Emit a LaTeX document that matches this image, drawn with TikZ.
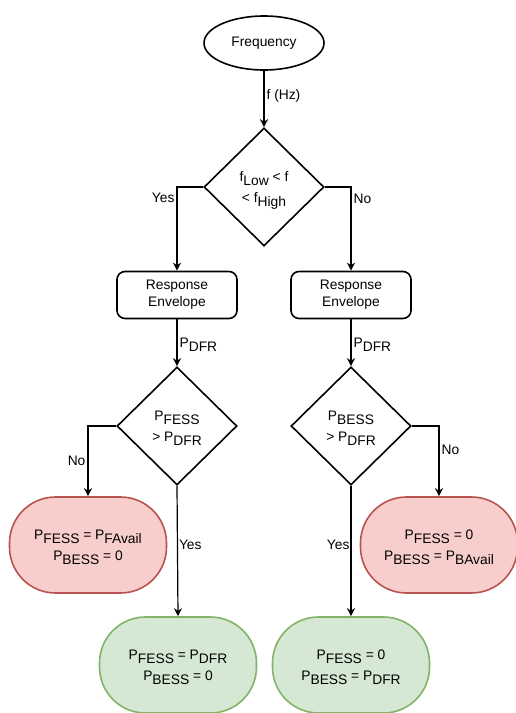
\documentclass[tikz,border=0pt]{standalone}
\usepackage{fontspec}
\setmainfont{Liberation Sans}
\usetikzlibrary{shapes.geometric,arrows.meta}
\definecolor{redfill}{HTML}{F8CECC}
\definecolor{redline}{HTML}{B85450}
\definecolor{greenfill}{HTML}{D5E8D4}
\definecolor{greenline}{HTML}{82B366}
\newcommand{\lo}[1]{\raisebox{-4pt}[0pt][0pt]{#1}}
\begin{document}
\begin{tikzpicture}[x=1pt,y=-1pt,
  every node/.style={font=\fontsize{13.8}{21}\selectfont, align=center},
  shp/.style={draw=black, line width=1.6pt, inner sep=0pt},
  oval/.style={shp, ellipse, minimum width=120pt, minimum height=54pt},
  dia/.style={shp, diamond, minimum width=120pt, minimum height=118pt},
  envbox/.style={shp, rectangle, rounded corners=8pt, minimum width=120pt, minimum height=47pt},
  term/.style={line width=1.6pt, rectangle, rounded corners=46pt, minimum width=157pt, minimum height=96pt, inner sep=0pt},
  redterm/.style={term, draw=redline, fill=redfill},
  greenterm/.style={term, draw=greenline, fill=greenfill},
  conn/.style={draw=black, line width=1.2pt, -{Stealth[length=8pt,width=8pt]}},
  lbl/.style={inner sep=2pt}
]
\useasboundingbox (0,0) rectangle (515,713);

\node[oval] (freq) at (264,43) {Frequency};
\node[dia] (d1) at (264,187) {f\lo{Low} < f\\< f\lo{High}};
\node[envbox] (env1) at (177,295) {Response\\[-4pt]Envelope};
\node[envbox] (env2) at (351,295) {Response\\[-4pt]Envelope};
\node[dia] (d2) at (177,426) {P\lo{FESS}\\> P\lo{DFR}};
\node[dia] (d3) at (351,426) {P\lo{BESS}\\> P\lo{DFR}};
\node[redterm] (r1) at (88,545) {P\lo{FESS} = P\lo{FAvail}\\P\lo{BESS} = 0};
\node[redterm] (r2) at (439,545) {P\lo{FESS} = 0\\P\lo{BESS} = P\lo{BAvail}};
\node[greenterm] (g1) at (178,665) {P\lo{FESS} = P\lo{DFR}\\P\lo{BESS} = 0};
\node[greenterm] (g2) at (351,665) {P\lo{FESS} = 0\\P\lo{BESS} = P\lo{DFR}};

\draw[conn] (freq.south) -- node[lbl, right, pos=0.45] {f (Hz)} (d1.north);
\draw[conn] (d1.west) -| node[lbl, left, pos=0.565] {Yes} (env1.north);
\draw[conn] (d1.east) -| node[lbl, right, pos=0.57] {No} (env2.north);
\draw[conn] (env1.south) -- node[lbl, right] {P\lo{DFR}} (d2.north);
\draw[conn] (env2.south) -- node[lbl, right] {P\lo{DFR}} (d3.north);
\draw[conn] (d2.west) -| node[lbl, left, pos=0.75] {No} (r1.north);
\draw[conn] (d2.south) -- node[lbl, right, pos=0.45, inner sep=1pt] {Yes} (g1.north);
\draw[conn] (d3.east) -| node[lbl, right, pos=0.67] {No} (r2.north);
\draw[conn] (d3.south) -- node[lbl, left, pos=0.45, inner sep=1pt] {Yes} (g2.north);
\end{tikzpicture}
\end{document}
